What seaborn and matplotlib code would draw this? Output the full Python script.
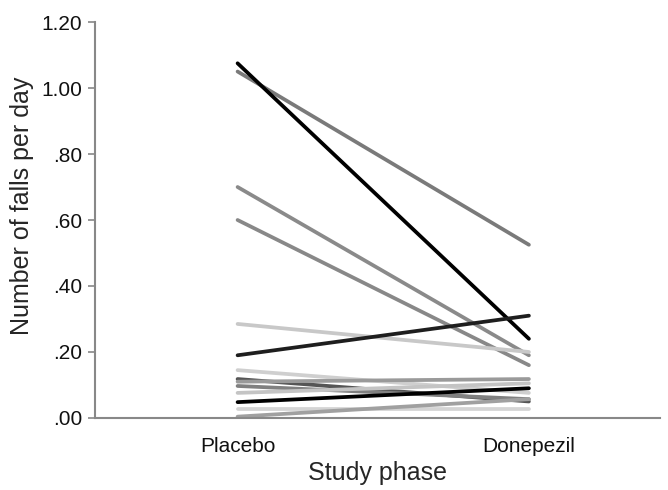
import pandas as pd
import seaborn as sns
import matplotlib.pyplot as plt
from matplotlib.ticker import FuncFormatter

# study phases and falls per day for each patient
phases = ["Placebo", "Donepezil"]
placebo = [1.05, 0.70, 0.60, 0.285, 0.145, 0.118, 0.110, 0.097, 0.076, 0.027, 0.004,
           1.075, 0.19, 0.048]
donepezil = [0.525, 0.19, 0.16, 0.20, 0.076, 0.050, 0.118, 0.057, 0.105, 0.027, 0.057,
             0.24, 0.31, 0.09]
shades = ["#7a7a7a", "#8a8a8a", "#888888", "#c8c8c8", "#cfcfcf", "#555555", "#9a9a9a",
          "#808080", "#c4c4c4", "#d4d4d4", "#a0a0a0",
          "#000000", "#1e1e1e", "#000000"]


def main() -> None:
    rows = []
    for i, (a, b) in enumerate(zip(placebo, donepezil)):
        rows.append({"patient": i, "phase": 0, "falls": a})
        rows.append({"patient": i, "phase": 1, "falls": b})
    df = pd.DataFrame(rows)

    sns.set_theme(style="white")
    plt.rcParams["font.family"] = ["Liberation Sans", "DejaVu Sans"]

    fig = plt.figure(figsize=(6.68, 4.9), dpi=100)
    ax = fig.add_axes([0.142, 0.147, 0.846, 0.808])

    sns.lineplot(
        data=df, x="phase", y="falls", hue="patient",
        palette=dict(enumerate(shades)), legend=False,
        linewidth=2.7, ax=ax,
    )

    ax.set_xlim(-0.49, 1.45)
    ax.set_ylim(0, 1.2)
    ax.set_xticks([0, 1])
    ax.set_xticklabels(phases)
    ax.set_yticks([0, 0.2, 0.4, 0.6, 0.8, 1.0, 1.2])
    ax.yaxis.set_major_formatter(
        FuncFormatter(lambda v, _: f"{v:.2f}".lstrip("0") if v < 1 else f"{v:.2f}"))

    ax.set_xlabel("Study phase", fontsize=18, labelpad=3)
    ax.set_ylabel("Number of falls per day", fontsize=18)
    ax.yaxis.set_label_coords(-0.108, 0.535)
    ax.tick_params(axis="x", labelsize=15, length=0, pad=14, labelcolor="#111111")
    ax.tick_params(axis="y", labelsize=15, left=True, length=5, width=1.2,
                   color="#888888", pad=4, labelcolor="#111111")

    sns.despine(ax=ax)
    for side in ["left", "bottom"]:
        ax.spines[side].set_color("#888888")
        ax.spines[side].set_linewidth(1.5)

    fig.savefig("out.png", dpi=100)


if __name__ == "__main__":
    main()
